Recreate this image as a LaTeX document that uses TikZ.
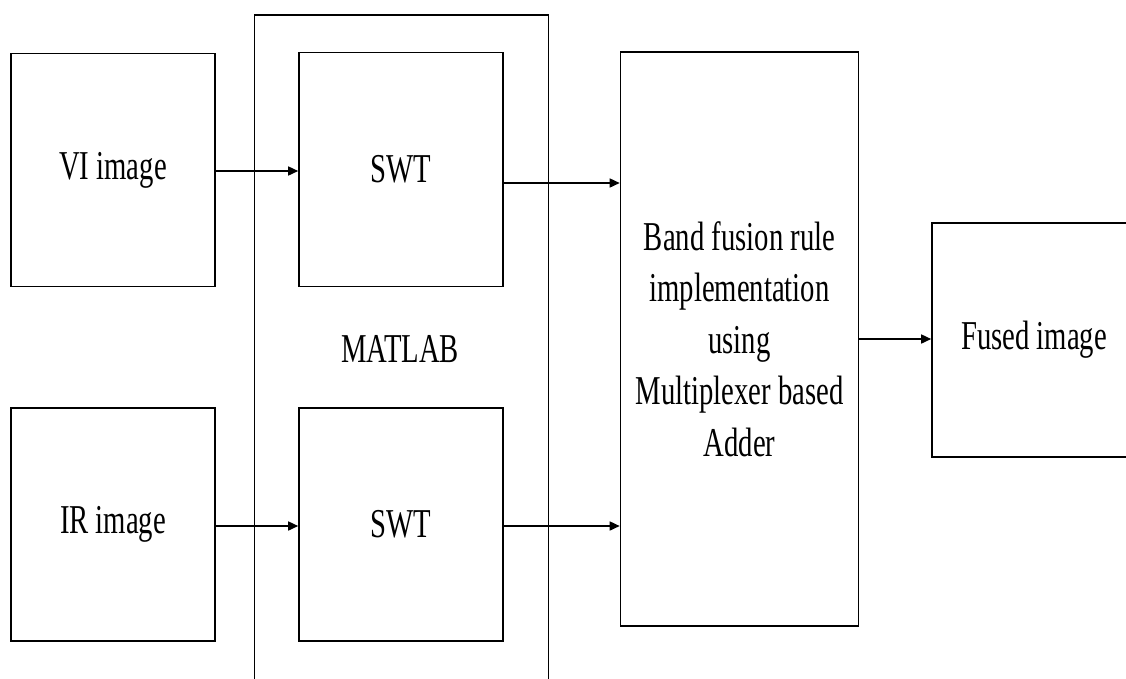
\documentclass[tikz,border=0pt]{standalone}
\usepackage{fontspec}
\setmainfont{Liberation Serif}[FakeStretch=0.7]
\usetikzlibrary{arrows.meta}
\begin{document}
\begin{tikzpicture}[x=1pt,y=-1pt,
  blk/.style={draw=black, line width=1.6pt, rectangle, inner sep=0pt,
    font=\fontsize{41}{51.5}\selectfont, align=center},
  arr/.style={line width=1.6pt, -{Triangle[length=10pt,width=9pt]}},
  lbl/.style={font=\fontsize{41}{51.5}\selectfont, inner sep=0pt}]
\useasboundingbox (0,0) rectangle (1126,678);
\clip (0,0) rectangle (1126,678);
% MATLAB frame (open at the bottom)
\coordinate (mbl) at (254.5,690);
\coordinate (mtl) at (254.5,15);
\coordinate (mtr) at (548.5,15);
\coordinate (mbr) at (548.5,690);
\draw[line width=1.6pt] (mbl) -- (mtl) -- (mtr) -- (mbr);
\node[lbl] (matlab) at (400,349) {MATLAB};
% blocks
\node[blk, minimum width=204pt, minimum height=233pt] (vi) at (113,170) {VI image};
\node[blk, minimum width=204pt, minimum height=233pt] (ir) at (113,524.5) {IR image};
\node[blk, minimum width=204pt, minimum height=234pt] (swt1) at (401,169.5) {SWT};
\node[blk, minimum width=204pt, minimum height=233pt] (swt2) at (401,524.5) {SWT};
\node[blk, minimum width=238pt, minimum height=574pt] (band) at (739.5,339)
  {Band fusion rule\\implementation\\using\\Multiplexer based\\Adder};
\node[blk, minimum width=204pt, minimum height=234pt] (fused) at (1034,340) {Fused image};
% connectors
\draw[arr] ([yshift=-1pt]vi.east) coordinate (vio) -- (vio -| swt1.west);
\draw[arr] ([yshift=-1.5pt]ir.east) coordinate (iro) -- (iro -| swt2.west);
\draw[arr] ([yshift=-13.5pt]swt1.east) coordinate (s1o) -- (s1o -| band.west);
\draw[arr] ([yshift=-1.5pt]swt2.east) coordinate (s2o) -- (s2o -| band.west);
\draw[arr] (band.east) coordinate (bo) -- (bo -| fused.west);
\end{tikzpicture}
\end{document}
